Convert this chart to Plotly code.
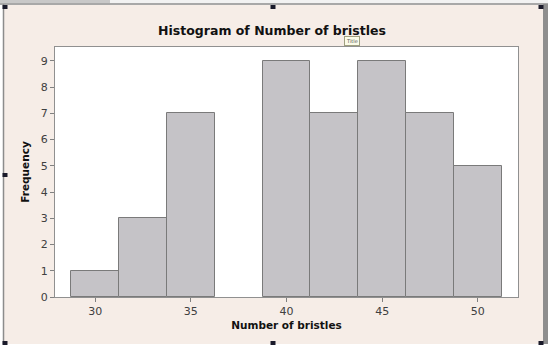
import plotly.graph_objects as go

# Histogram bins (centres, width 2.5) and their counts
bin_centers = [30, 32.5, 35, 37.5, 40, 42.5, 45, 47.5, 50]
frequencies = [1, 3, 7, 0, 9, 7, 9, 7, 5]
bin_width = 2.5
x_ticks = [30, 35, 40, 45, 50]
y_ticks = [0, 1, 2, 3, 4, 5, 6, 7, 8, 9]

W, H = 548, 346
L, R, T, B = 55, 518, 47, 297  # plot area in pixels


def px(x):
    return (x - L) / (R - L)


def py(y):
    return (B - y) / (B - T)


fig = go.Figure()
fig.add_trace(go.Bar(
    x=bin_centers, y=frequencies, width=[bin_width] * len(bin_centers),
    marker=dict(color="#C5C3C7",
                line=dict(color="#7A7A7A", width=[1 if f > 0 else 0 for f in frequencies])),
    showlegend=False, hoverinfo="x+y",
))

shapes = []
# white surroundings outside the window frame
shapes.append(dict(type="rect", xref="paper", yref="paper", layer="below",
                   x0=px(0), x1=px(548), y0=py(346), y1=py(344),
                   fillcolor="#FFFFFF", line=dict(width=0)))
shapes.append(dict(type="rect", xref="paper", yref="paper", layer="below",
                   x0=px(0), x1=px(3), y0=py(346), y1=py(0),
                   fillcolor="#FFFFFF", line=dict(width=0)))
shapes.append(dict(type="rect", xref="paper", yref="paper", layer="below",
                   x0=px(0), x1=px(548), y0=py(4), y1=py(0),
                   fillcolor="#F2F2F2", line=dict(width=0)))
# white plot area
shapes.append(dict(type="rect", xref="paper", yref="paper", layer="below",
                   x0=0, x1=1, y0=0, y1=1,
                   fillcolor="#FFFFFF", line=dict(width=0)))
# frame edges
shapes.append(dict(type="line", xref="paper", yref="paper",
                   x0=px(0), x1=px(548), y0=py(4), y1=py(4),
                   line=dict(color="#A8A8A8", width=2)))
shapes.append(dict(type="line", xref="paper", yref="paper",
                   x0=px(3.5), x1=px(3.5), y0=py(4), y1=py(344),
                   line=dict(color="#8C8C8C", width=1.5)))
shapes.append(dict(type="rect", xref="paper", yref="paper",
                   x0=px(543), x1=px(548), y0=py(344), y1=py(4),
                   fillcolor="#8E8E8E", line=dict(width=0)))
shapes.append(dict(type="rect", xref="paper", yref="paper",
                   x0=px(0), x1=px(110), y0=py(3), y1=py(0),
                   fillcolor="#C8C8C8", line=dict(width=0)))
# resize handles
for hx, hy in [(5, 7), (273, 7), (541, 7), (5, 175), (5, 343), (273, 343), (541, 343)]:
    shapes.append(dict(type="rect", xref="paper", yref="paper",
                       x0=px(hx - 2.5), x1=px(hx + 2.5), y0=py(hy + 2), y1=py(hy - 2),
                       fillcolor="#1A1A2A", line=dict(width=0)))

fig.update_layout(
    width=W, height=H,
    margin=dict(l=L, r=W - R, t=T, b=H - B),
    paper_bgcolor="#F6EDE7",
    plot_bgcolor="#FFFFFF",
    bargap=0,
    font=dict(family="DejaVu Sans", color="#404040"),
    shapes=shapes,
    title=dict(text="<b>Histogram of Number of bristles</b>",
               x=px(272), xref="paper", xanchor="center",
               y=1 - 30.5 / H, yanchor="middle",
               font=dict(size=12.5, color="#111111")),
    xaxis=dict(range=[27.9, 52.1], tickvals=x_ticks, ticks="outside",
               ticklen=4, tickcolor="#808080", tickfont=dict(size=11, color="#404040"),
               showline=True, linecolor="#909090", linewidth=1, mirror=True,
               showgrid=False, zeroline=False,
               title=dict(text="<b>Number of bristles</b>", standoff=4,
                          font=dict(size=10.5, color="#111111"))),
    yaxis=dict(range=[0, 9.53], tickvals=y_ticks, ticks="outside",
               ticklen=4, tickcolor="#808080", tickfont=dict(size=11, color="#404040"),
               showline=True, linecolor="#909090", linewidth=1, mirror=True,
               showgrid=False, zeroline=False,
               title=dict(text="<b>Frequency</b>", standoff=9,
                          font=dict(size=10.5, color="#111111"))),
    annotations=[dict(text="Title", xref="paper", yref="paper",
                      x=px(352), y=py(41), yanchor="middle", showarrow=False,
                      font=dict(size=5, color="#555555"),
                      bgcolor="#FBFBE8", bordercolor="#A0A080", borderwidth=1, borderpad=1)],
)

fig.write_html("out.html")
